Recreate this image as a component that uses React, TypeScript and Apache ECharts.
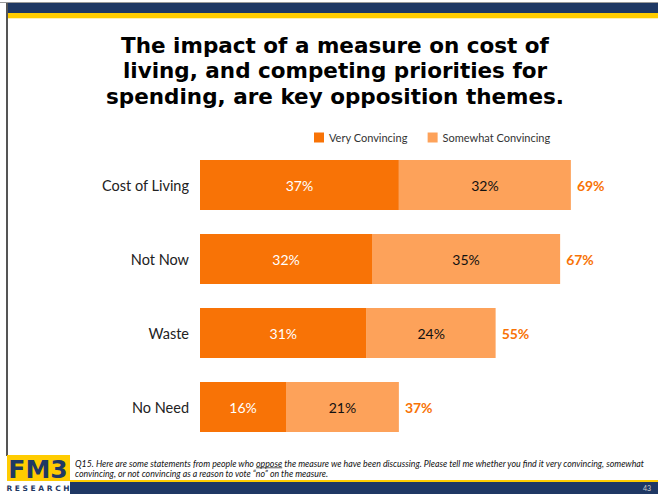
import React, { useEffect, useRef } from "react";
import * as echarts from "echarts";

const categories = ["Cost of Living", "Not Now", "Waste", "No Need"];
const veryConvincing = [37, 32, 31, 16];
const somewhatConvincing = [32, 35, 24, 21];
const totals = [69, 67, 55, 37];
const seriesNames = ["Very Convincing", "Somewhat Convincing"];
const titleLines = [
  "The impact of a measure on cost of",
  "living, and competing priorities for",
  "spending, are key opposition themes.",
];
const footnote1a = "Q15. Here are some statements from people who ";
const footnote1b = "oppose";
const footnote1c =
  " the measure we have been discussing. Please tell me whether you find it very convincing, somewhat";
const footnote2 = "convincing, or not convincing as a reason to vote \u201cno\u201d on the measure.";
const pageNumber = "43";

const NAVY = "#1F3864";
const GOLD = "#FFCC00";
const VERY = "#F87306";
const SOME = "#FDA25A";
const FONT = "Lato, 'Noto Sans', sans-serif";
const FOOT_FONT = "italic 8.8px Lato, 'Noto Sans', sans-serif";

function measure(text: string, font: string): number {
  const c = document.createElement("canvas").getContext("2d");
  if (!c) return text.length * 4;
  c.font = font;
  return c.measureText(text).width;
}

export default function App() {
  const ref = useRef<HTMLDivElement>(null);
  useEffect(() => {
    if (!ref.current) return;
    const chart = echarts.init(ref.current, undefined, { renderer: "svg" });
    const ulStart = 75 + measure(footnote1a, FOOT_FONT);
    const ulWidth = measure(footnote1b, FOOT_FONT);
    chart.setOption({
      animation: false,
      backgroundColor: "#ffffff",
      textStyle: { fontFamily: FONT },
      legend: {
        data: seriesNames,
        top: 127,
        left: 309,
        itemWidth: 10,
        itemHeight: 10,
        itemGap: 20,
        icon: "rect",
        textStyle: { fontSize: 11, color: "#333", fontFamily: FONT },
      },
      grid: { left: 200, top: 148, width: 430, height: 296, containLabel: false },
      xAxis: {
        type: "value",
        min: 0,
        max: 80,
        show: false,
      },
      yAxis: {
        type: "category",
        data: categories,
        inverse: true,
        axisLine: { show: false },
        axisTick: { show: false },
        axisLabel: { fontSize: 14.5, color: "#222", margin: 11, fontFamily: FONT },
      },
      series: [
        {
          name: seriesNames[0],
          type: "bar",
          stack: "s",
          barWidth: 50,
          data: veryConvincing,
          itemStyle: { color: VERY },
          label: {
            show: true,
            position: "inside",
            formatter: "{c}%",
            color: "#ffffff",
            fontSize: 14,
            fontFamily: FONT,
          },
        },
        {
          name: seriesNames[1],
          type: "bar",
          stack: "s",
          barWidth: 50,
          data: somewhatConvincing,
          itemStyle: { color: SOME },
          label: {
            show: true,
            position: "inside",
            formatter: "{c}%",
            color: "#111111",
            fontSize: 14,
            fontFamily: FONT,
          },
        },
        {
          name: "Total",
          type: "bar",
          stack: "s",
          barWidth: 50,
          data: totals.map(() => 0),
          itemStyle: { color: "transparent" },
          label: {
            show: true,
            position: "right",
            distance: 6,
            formatter: (p: any) => totals[p.dataIndex] + "%",
            color: VERY,
            fontSize: 14,
            fontWeight: "bold",
            fontFamily: FONT,
          },
        },
      ],
      graphic: [
        { type: "rect", shape: { x: 0, y: 2, width: 658, height: 1 }, style: { fill: "#9a9a9a" } },
        { type: "rect", shape: { x: 7, y: 3, width: 651, height: 10 }, style: { fill: NAVY } },
        { type: "rect", shape: { x: 7, y: 13, width: 651, height: 5 }, style: { fill: GOLD } },
        { type: "rect", shape: { x: 7, y: 18, width: 651, height: 1 }, style: { fill: "#FFF1B8" } },
        { type: "rect", shape: { x: 6, y: 3, width: 2, height: 453 }, style: { fill: "#555555" } },
        ...titleLines.map((t, i) => ({
          type: "text",
          x: 335,
          y: 45 + i * 25.5,
          style: {
            text: t,
            fill: "#000000",
            font: "bold 21.5px 'DejaVu Sans', Verdana, sans-serif",
            textAlign: "center",
            textVerticalAlign: "middle",
          },
        })),
        // logo
        { type: "rect", shape: { x: 7, y: 455, width: 63, height: 26 }, style: { fill: GOLD } },
        {
          type: "text",
          x: 38,
          y: 469,
          style: {
            text: "FM3",
            fill: NAVY,
            font: "bold 25px 'DejaVu Sans', sans-serif",
            textAlign: "center",
            textVerticalAlign: "middle",
          },
        },
        {
          type: "text",
          x: 38,
          y: 488,
          style: {
            text: "R E S E A R C H",
            fill: NAVY,
            font: "bold 7.5px 'DejaVu Sans', sans-serif",
            textAlign: "center",
            textVerticalAlign: "middle",
          },
        },
        { type: "rect", shape: { x: 70, y: 480, width: 588, height: 2 }, style: { fill: GOLD } },
        { type: "rect", shape: { x: 70, y: 482, width: 588, height: 12 }, style: { fill: NAVY } },
        {
          type: "text",
          x: 651,
          y: 488,
          style: {
            text: pageNumber,
            fill: "#d0d0d0",
            font: "7px " + FONT,
            textAlign: "right",
            textVerticalAlign: "middle",
          },
        },
        {
          type: "text",
          x: 75,
          y: 463,
          style: {
            text: footnote1a + footnote1b + footnote1c,
            fill: "#111",
            font: FOOT_FONT,
            textVerticalAlign: "middle",
          },
        },
        {
          type: "text",
          x: 75,
          y: 473,
          style: {
            text: footnote2,
            fill: "#111",
            font: FOOT_FONT,
            textVerticalAlign: "middle",
          },
        },
        { type: "rect", shape: { x: ulStart, y: 467.5, width: ulWidth, height: 0.7 }, style: { fill: "#111" } },
      ],
    });
    return () => chart.dispose();
  }, []);
  return (
    <div
      ref={ref}
      style={{ position: "fixed", left: 0, top: 0, width: 658, height: 494 }}
    />
  );
}
